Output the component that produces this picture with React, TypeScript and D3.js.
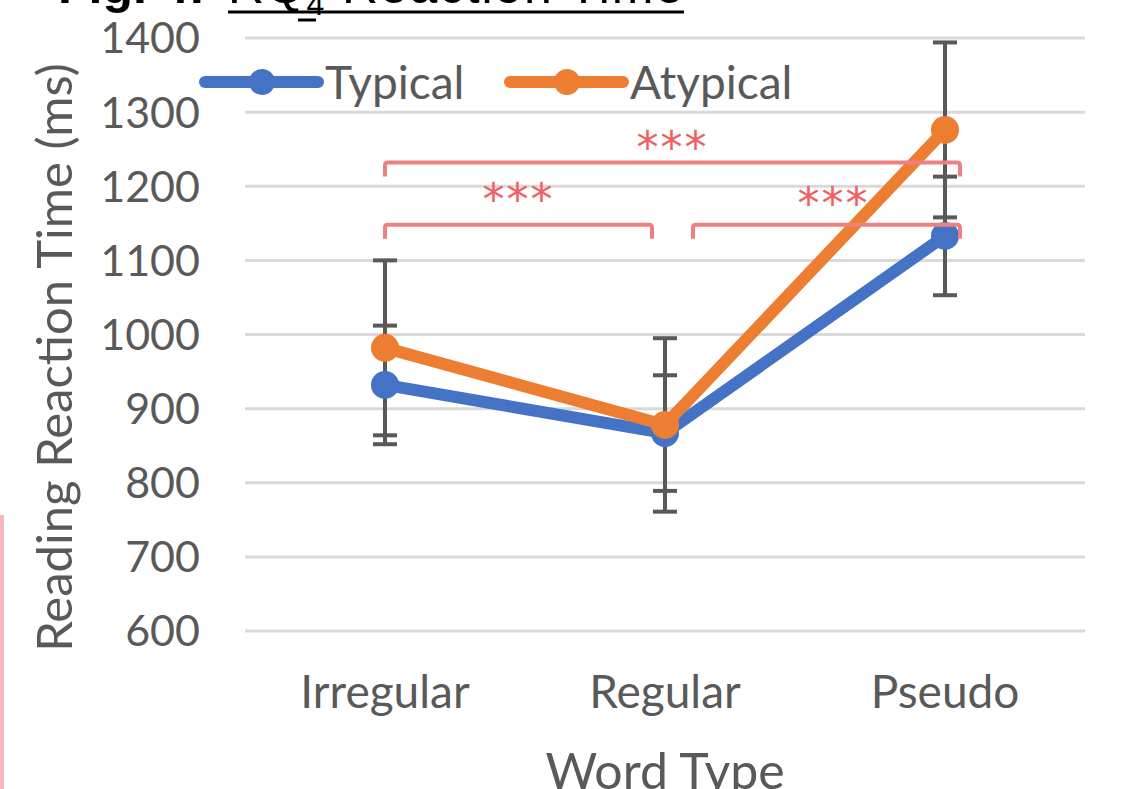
import * as d3 from 'd3';

const categories = ['Irregular', 'Regular', 'Pseudo'];
const typical = [932, 867, 1133];
const typicalErr = [80, 78, 80];
const atypical = [982, 878, 1276];
const atypicalErr = [118, 117, 118];
const yTicks = [600, 700, 800, 900, 1000, 1100, 1200, 1300, 1400];

// significance brackets: [from, to, level in ms]
const brackets = [
  { from: 0, to: 2, level: 1232, label: '***' },
  { from: 0, to: 1, level: 1148, label: '***' },
  { from: 1, to: 2, level: 1148, label: '***' },
];

const W = 1124;
const H = 789;
const FONT = 'Lato, "Open Sans", sans-serif';
const GREY = '#595959';
const BLUE = '#4472C4';
const ORANGE = '#ED7D31';
const PINK = '#F08080';

export default function App() {
  const x = d3.scaleBand().domain(categories).range([245, 1085]);
  const cx = (i: number) => x(categories[i])! + x.bandwidth() / 2;
  const y = d3.scaleLinear().domain([600, 1400]).range([631, 38]);

  const line = d3.line<number>().x((_, i) => cx(i)).y((d) => y(d));

  const series = [
    { name: 'Typical', values: typical, err: typicalErr, color: BLUE },
    { name: 'Atypical', values: atypical, err: atypicalErr, color: ORANGE },
  ];

  return (
    <svg width={W} height={H} style={{ position: 'absolute', left: 0, top: 0, background: '#fff' }}>
      {/* title, cut off at the top */}
      <text x={58} y={3} fontFamily='Arial, "Liberation Sans", sans-serif' fontSize={50} fontWeight="bold" fill="#000">
        Fig. 4:
      </text>
      <text x={228} y={3} fontFamily='Arial, "Liberation Sans", sans-serif' fontSize={50} fill="#000" textLength={455}>
        RQ<tspan fontSize={32} dy={12}>4</tspan><tspan dy={-12}> Reaction Time</tspan>
      </text>
      <line x1={228} x2={684} y1={12} y2={12} stroke="#000" strokeWidth={3} />
      <line x1={298} x2={316} y1={20} y2={20} stroke="#000" strokeWidth={3} />

      {/* pink edge */}
      <rect x={0} y={515} width={4} height={H - 515} fill="#F6B9BB" />

      {/* gridlines */}
      {yTicks.map((t) => (
        <g key={t}>
          <line x1={245} x2={1085} y1={y(t)} y2={y(t)} stroke="#D9D9D9" strokeWidth={3} />
          <text x={200} y={y(t)} dy="0.36em" textAnchor="end" fontFamily={FONT} fontSize={43} fill={GREY}>
            {t}
          </text>
        </g>
      ))}

      {/* category labels */}
      {categories.map((c, i) => (
        <text key={c} x={cx(i)} y={708} textAnchor="middle" fontFamily={FONT} fontSize={46} fill={GREY}>
          {c}
        </text>
      ))}
      <text x={665} y={789} textAnchor="middle" fontFamily={FONT} fontSize={50} fill={GREY}>
        Word Type
      </text>
      <text
        transform={`translate(72,${(60 + 655) / 2}) rotate(-90)`}
        textAnchor="middle"
        fontFamily={FONT}
        fontSize={49}
        fill={GREY}
      >
        Reading Reaction Time (ms)
      </text>

      {/* error bars */}
      {series.map((s) =>
        s.values.map((v, i) => (
          <g key={s.name + i} stroke={GREY} strokeWidth={4}>
            <line x1={cx(i)} x2={cx(i)} y1={y(v - s.err[i])} y2={y(v + s.err[i])} />
            <line x1={cx(i) - 12} x2={cx(i) + 12} y1={y(v - s.err[i])} y2={y(v - s.err[i])} />
            <line x1={cx(i) - 12} x2={cx(i) + 12} y1={y(v + s.err[i])} y2={y(v + s.err[i])} />
          </g>
        ))
      )}

      {/* lines + markers */}
      {series.map((s) => (
        <g key={s.name}>
          <path d={line(s.values)!} fill="none" stroke={s.color} strokeWidth={12} strokeLinejoin="round" />
          {s.values.map((v, i) => (
            <circle key={i} cx={cx(i)} cy={y(v)} r={14} fill={s.color} />
          ))}
        </g>
      ))}

      {/* significance brackets */}
      {brackets.map((b, k) => {
        const x1 = cx(b.from) + (b.from === 1 ? 28 : 0);
        const x2 = b.to === 1 ? cx(b.to) - 13 : cx(b.to) + 15;
        const yy = y(b.level);
        return (
          <g key={k}>
            <path
              d={`M${x1},${yy + 14} V${yy + 3} Q${x1},${yy} ${x1 + 3},${yy} H${x2 - 3} Q${x2},${yy} ${x2},${yy + 3} V${yy + 14}`}
              fill="none"
              stroke={PINK}
              strokeWidth={4}
            />
            <text
              x={(x1 + x2) / 2 + (k === 2 ? 7 : 0)}
              y={yy - (k === 0 ? 0 : k === 1 ? 10 : 6)}
              textAnchor="middle"
              fontFamily='"DejaVu Sans", sans-serif'
              fontSize={44}
              letterSpacing={2}
              fill="#F06060"
            >
              {b.label}
            </text>
          </g>
        );
      })}

      {/* legend */}
      {series.map((s, i) => {
        const lx = i === 0 ? 205 : 510;
        return (
          <g key={s.name}>
            <line x1={lx} x2={lx + 113} y1={82} y2={82} stroke={s.color} strokeWidth={12} strokeLinecap="round" />
            <circle cx={lx + 57} cy={82} r={13} fill={s.color} />
            <text x={lx + 120} y={82} dy="0.36em" fontFamily={FONT} fontSize={46} fill={GREY}>
              {s.name}
            </text>
          </g>
        );
      })}
    </svg>
  );
}
